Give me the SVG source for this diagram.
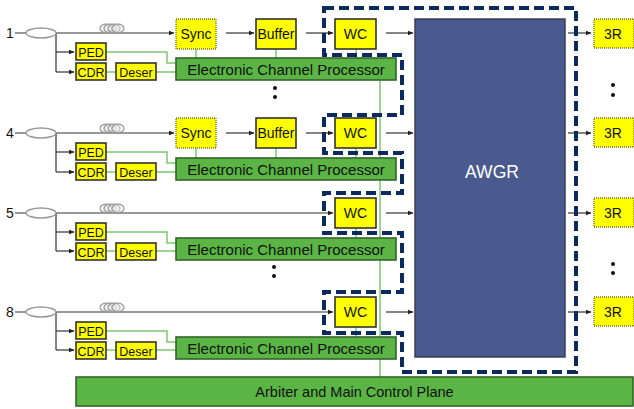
<svg xmlns="http://www.w3.org/2000/svg" width="634" height="409" viewBox="0 0 634 409">
<defs>
<marker id="ah" markerWidth="6" markerHeight="6" refX="5" refY="3" orient="auto" markerUnits="userSpaceOnUse">
<path d="M0,0.8 L5.5,3 L0,5.2 Z" fill="#222"/>
</marker>
<g id="coil" fill="#e8e8e8" fill-opacity="0.45" stroke="#9a9a9a" stroke-width="1.2">
<ellipse cx="0" cy="0" rx="6" ry="4.3"/>
<ellipse cx="4" cy="0" rx="6" ry="4.3"/>
<ellipse cx="8" cy="0" rx="6" ry="4.3"/>
<ellipse cx="12" cy="0" rx="6" ry="4.3"/>
</g>
</defs>
<style>
text{font-family:"Liberation Sans",Arial,sans-serif;fill:#111;text-anchor:middle}
.y{fill:#ffff00;stroke:#333;stroke-width:1.6}
.yd{fill:#ffff00;stroke:#77772a;stroke-width:1.4;stroke-dasharray:1 1}
.g{fill:#5ab545;stroke:#35632b;stroke-width:1.6}
.ln{fill:none;stroke:#333;stroke-width:1.2}
.ar{fill:none;stroke:#333;stroke-width:1.2;marker-end:url(#ah)}
.gl{fill:none;stroke:#7cc871;stroke-width:1.5}
.cp{fill:#fff;stroke:#999;stroke-width:1.4}
.t15{font-size:15px}
.t14{font-size:14px}
.t12{font-size:12.5px}
.dot{fill:#111}
</style>

<!-- connectors -->
<g id="connectors">
<path class="gl" d="M380,80 V377"/>
<path class="gl" d="M106,52 H167 V63 H176 M106,72 H116 M156,72 H176 M196,49 V58 M276,49 V58 M356,49 V58"/>
<path class="gl" d="M106,152 H167 V163 H176 M106,172 H116 M156,172 H176 M196,148 V158 M276,148 V158 M356,148 V158"/>
<path class="gl" d="M106,232 H167 V243 H176 M106,251 H116 M156,251 H176 M356,228 V238"/>
<path class="gl" d="M106,331 H167 V342 H176 M106,350 H116 M156,350 H176 M356,327 V337"/>
<path class="ln" d="M15,33 H26 M15,133 H26 M15,213 H26 M15,312 H26"/>
<path class="ar" d="M56,33 H174"/>
<path class="ar" d="M56,133 H174"/>
<path class="ar" d="M56,213 H333"/>
<path class="ar" d="M56,312 H333"/>
<path class="ln" d="M56,33 V72 M56,133 V172 M56,213 V251 M56,312 V350"/>
<path class="ar" d="M56,52 H74"/><path class="ar" d="M56,72 H74"/>
<path class="ar" d="M56,152 H74"/><path class="ar" d="M56,172 H74"/>
<path class="ar" d="M56,232 H74"/><path class="ar" d="M56,251 H74"/>
<path class="ar" d="M56,331 H74"/><path class="ar" d="M56,350 H74"/>
<path class="ar" d="M226,33 H254"/><path class="ar" d="M306,33 H333"/>
<path class="ar" d="M226,133 H254"/><path class="ar" d="M306,133 H333"/>
<path class="ar" d="M386,33 H413"/><path class="ar" d="M386,133 H413"/>
<path class="ar" d="M386,213 H413"/><path class="ar" d="M386,312 H413"/>
<path class="ar" d="M568,33 H591"/><path class="ar" d="M568,133 H591"/>
<path class="ar" d="M568,213 H591"/><path class="ar" d="M568,312 H591"/>
</g>

<g id="input1">
<text x="10" y="38" class="t14">1</text>
<ellipse class="cp" cx="41" cy="33" rx="15" ry="5"/>
<use href="#coil" x="106" y="28.5"/>
</g>
<g id="input4">
<text x="10" y="138" class="t14">4</text>
<ellipse class="cp" cx="41" cy="133" rx="15" ry="5"/>
<use href="#coil" x="106" y="128.5"/>
</g>
<g id="input5">
<text x="10" y="218" class="t14">5</text>
<ellipse class="cp" cx="41" cy="213" rx="15" ry="5"/>
<use href="#coil" x="106" y="208.5"/>
</g>
<g id="input8">
<text x="10" y="317" class="t14">8</text>
<ellipse class="cp" cx="41" cy="312" rx="15" ry="5"/>
<use href="#coil" x="106" y="307.5"/>
</g>

<!-- row 1 -->
<g id="ped1"><rect class="y" x="76" y="43" width="30" height="17"/><text x="91" y="56.5" class="t12">PED</text></g>
<g id="cdr1"><rect class="y" x="76" y="63" width="30" height="17"/><text x="91" y="76.5" class="t12">CDR</text></g>
<g id="deser1"><rect class="y" x="116" y="63" width="40" height="17"/><text x="136" y="76.5" class="t12">Deser</text></g>
<g id="sync1"><rect class="yd" x="176" y="19" width="40" height="30"/><text x="196" y="39" class="t14">Sync</text></g>
<g id="buffer1"><rect class="y" x="256" y="19" width="40" height="30"/><text x="276" y="39" class="t14">Buffer</text></g>
<g id="ecp1"><rect class="g" x="176" y="58" width="220" height="22"/><text x="286" y="74.5" class="t15">Electronic Channel Processor</text></g>
<g id="wc1"><rect class="y" x="335" y="19" width="41" height="30"/><text x="355.5" y="39" class="t14">WC</text></g>
<g id="r3_1"><rect class="yd" x="594" y="19" width="40" height="29"/><text x="613" y="38.5" class="t14">3R</text></g>

<!-- row 4 -->
<g id="ped4"><rect class="y" x="76" y="143" width="30" height="17"/><text x="91" y="156.5" class="t12">PED</text></g>
<g id="cdr4"><rect class="y" x="76" y="163" width="30" height="17"/><text x="91" y="176.5" class="t12">CDR</text></g>
<g id="deser4"><rect class="y" x="116" y="163" width="40" height="17"/><text x="136" y="176.5" class="t12">Deser</text></g>
<g id="sync4"><rect class="yd" x="176" y="118" width="40" height="30"/><text x="196" y="138" class="t14">Sync</text></g>
<g id="buffer4"><rect class="y" x="256" y="118" width="40" height="30"/><text x="276" y="138" class="t14">Buffer</text></g>
<g id="ecp4"><rect class="g" x="176" y="158" width="220" height="22"/><text x="286" y="174.5" class="t15">Electronic Channel Processor</text></g>
<g id="wc4"><rect class="y" x="335" y="118" width="41" height="30"/><text x="355.5" y="138" class="t14">WC</text></g>
<g id="r3_4"><rect class="yd" x="594" y="118" width="40" height="29"/><text x="613" y="137.5" class="t14">3R</text></g>

<!-- row 5 -->
<g id="ped5"><rect class="y" x="76" y="223" width="30" height="17"/><text x="91" y="236.5" class="t12">PED</text></g>
<g id="cdr5"><rect class="y" x="76" y="243" width="30" height="17"/><text x="91" y="256.5" class="t12">CDR</text></g>
<g id="deser5"><rect class="y" x="116" y="243" width="40" height="17"/><text x="136" y="256.5" class="t12">Deser</text></g>
<g id="ecp5"><rect class="g" x="176" y="238" width="220" height="22"/><text x="286" y="254.5" class="t15">Electronic Channel Processor</text></g>
<g id="wc5"><rect class="y" x="335" y="198" width="41" height="30"/><text x="355.5" y="218" class="t14">WC</text></g>
<g id="r3_5"><rect class="yd" x="594" y="198" width="40" height="29"/><text x="613" y="217.5" class="t14">3R</text></g>

<!-- row 8 -->
<g id="ped8"><rect class="y" x="76" y="322" width="30" height="17"/><text x="91" y="335.5" class="t12">PED</text></g>
<g id="cdr8"><rect class="y" x="76" y="342" width="30" height="17"/><text x="91" y="355.5" class="t12">CDR</text></g>
<g id="deser8"><rect class="y" x="116" y="342" width="40" height="17"/><text x="136" y="355.5" class="t12">Deser</text></g>
<g id="ecp8"><rect class="g" x="176" y="337" width="220" height="22"/><text x="286" y="353.5" class="t15">Electronic Channel Processor</text></g>
<g id="wc8"><rect class="y" x="335" y="297" width="41" height="30"/><text x="355.5" y="317" class="t14">WC</text></g>
<g id="r3_8"><rect class="yd" x="594" y="297" width="40" height="29"/><text x="613" y="316.5" class="t14">3R</text></g>

<g id="awgr"><rect x="415" y="19" width="150" height="338" fill="#4b5a8e" stroke="#3a3f55" stroke-width="1.5"/><text x="492" y="178" style="font-size:17.5px;fill:#fff">AWGR</text></g>

<g id="arbiter"><rect class="g" x="76" y="377" width="557" height="29"/><text x="354.5" y="397" style="font-size:14.5px">Arbiter and Main Control Plane</text></g>

<g id="boundary">
<path d="M324,8 H576 V372 H402 V333 H324 V292 H402 V233 H324 V193 H402 V153 H324 V115 H402 V55 H324 Z" fill="none" stroke="#0d2a5e" stroke-width="4" stroke-dasharray="10 5"/>
</g>

<g id="dots">
<circle class="dot" cx="275" cy="88" r="2"/><circle class="dot" cx="275" cy="97" r="2"/>
<circle class="dot" cx="274" cy="267" r="2"/><circle class="dot" cx="274" cy="276" r="2"/>
<circle class="dot" cx="613" cy="85" r="2"/><circle class="dot" cx="613" cy="95" r="2"/>
<circle class="dot" cx="613" cy="264" r="2"/><circle class="dot" cx="613" cy="273" r="2"/>
</g>
</svg>
